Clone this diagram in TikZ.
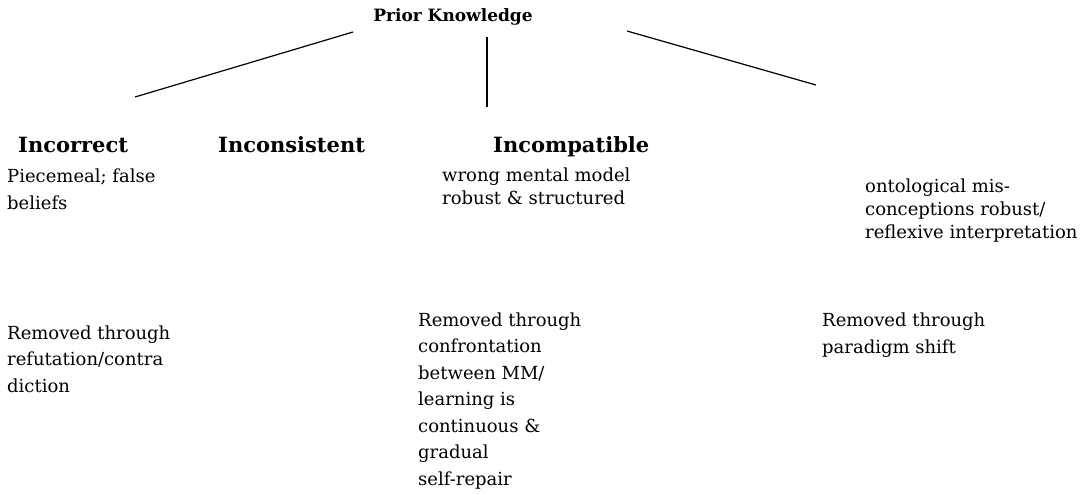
\documentclass[tikz,border=0pt]{standalone}
\usepackage{fontspec}
\setmainfont{DejaVu Serif}
\usetikzlibrary{positioning}

\begin{document}
\begin{tikzpicture}[
    x=1pt,
    y=-1pt,
    title/.style={
        font=\fontsize{17}{20}\selectfont\bfseries,
        inner sep=0pt,
        anchor=base
      },
    head/.style={
        font=\fontsize{21}{25}\selectfont\bfseries,
        inner sep=0pt,
        anchor=base west
      },
    body/.style={
        font=\fontsize{18}{26.5}\selectfont,
        inner sep=0pt,
        anchor=base west,
        align=left
      },
    tight/.style={body,font=\fontsize{18}{23}\selectfont},
    link/.style={line width=1.2pt}
    ]

    \useasboundingbox (0,0) rectangle (1085,495);

    \node[title] (prior) at (453,22) {Prior Knowledge};

    \node[head] (incorrect) at (18,152) {Incorrect};
    \node[head] (inconsistent) at (218,152) {Inconsistent};
    \node[head] (incompatible) at (493,152) {Incompatible};

    % base anchor sits on the last line
    \node[body] (piecemeal) at (7,209) {Piecemeal; false\\beliefs};
    \node[tight] (wrongmm) at (442,204) {wrong mental model\\robust \& structured};
    \node[tight] (ontological) at (865,238) {ontological mis-\\conceptions robust/\\reflexive interpretation};

    \node[body] (refute) at (7,392) {Removed through\\refutation/contra\\diction};
    \node[body] (confront) at (418,485) {Removed through\\confrontation\\between MM/\\learning is\\continuous \&\\gradual\\self-repair};
    \node[body] (shift) at (822,353) {Removed through\\paradigm shift};

    % branch ends, free of the labels
    \coordinate (prior-l) at (353,32);
    \coordinate (prior-m) at (487,37);
    \coordinate (prior-r) at (627,31);
    \coordinate (branch-l) at (135,97);
    \coordinate (branch-m) at (487,107);
    \coordinate (branch-r) at (816,85);

    \draw[link] (prior-l)--(branch-l);
    \draw[link] (prior-m)--(branch-m);
    \draw[link] (prior-r)--(branch-r);

  \end{tikzpicture}
\end{document}
